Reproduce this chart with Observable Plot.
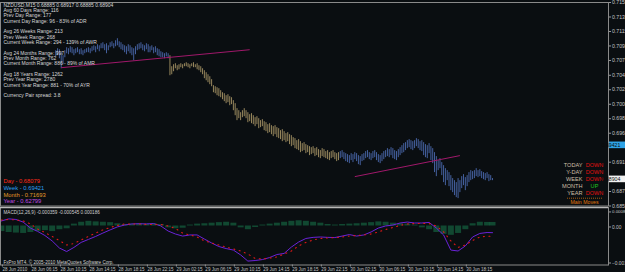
<!DOCTYPE html>
<html><head><meta charset="utf-8">
<script src="https://cdn.jsdelivr.net/npm/d3@7"></script>
<script src="https://cdn.jsdelivr.net/npm/@observablehq/plot@0.6"></script>
<style>
html,body{margin:0;padding:0;background:#0a0e11;overflow:hidden;}
#wrap{position:relative;width:625px;height:272px;background:#0a0e11;overflow:hidden;}
#wrap svg{position:absolute;left:0;overflow:visible;}
</style></head><body><div id="wrap"></div>
<script>
// ---------------- data ----------------
const symbolTitle = "NZDUSD,M15 0.68885 0.68917 0.68885 0.68904";
const infoLines = [
  "Avg 60 Days Range: 116",
  "Prev Day Range: 177",
  "Current Day Range: 96 - 83% of ADR",
  "",
  "Avg 26 Weeks Range: 213",
  "Prev Week Range: 268",
  "Current Week Range: 294 - 139% of AWR",
  "",
  "Avg 24 Months Range: 997",
  "Prev Month Range: 762",
  "Current Month Range: 886 - 89% of AMR",
  "",
  "Avg 18 Years Range: 1262",
  "Prev Year Range: 2780",
  "Current Year Range: 881 - 70% of AYR",
  "",
  "Currency Pair spread: 3.8"
];
const levelNames = ["Day", "Week", "Month", "Year"];
const levelValues = ["0.68079", "0.69421", "0.71693", "0.62799"];
const moveLabels = ["TODAY", "Y-DAY", "WEEK", "MONTH", "YEAR"];
const moveDirs = ["DOWN", "DOWN", "DOWN", "UP", "DOWN"];
const movesTitle = "Main Moves";
const macdTitle = "MACD(12,26,9) -0.000359 -0.000545 0.000186";
const copyright = "FxPro MT4, \u00A9 2005-2010 MetaQuotes Software Corp.";

// M15 bars, index 0 = first bar of the window; prices x 1e-5
const firstBar = 30;
const barHigh = [
70858,70888,70873,70827,70782,70858,70903,70888,70918,70903,
70873,70888,70903,70873,70888,70858,70873,70888,70903,70888,
70918,70933,70918,70949,70933,70964,70979,70949,70964,70933,
70979,70994,70964,71009,71040,70994,70979,70949,70933,70918,
70949,70933,70903,70888,70918,70949,70964,70979,70949,70933,
70964,70949,70918,70933,70903,70918,70888,70873,70842,70827,
70812,70827,70812,70782,70615,70645,70660,70630,70645,70660,
70645,70660,70675,70660,70645,70660,70675,70645,70660,70630,
70615,70584,70554,70524,70493,70463,70418,70327,70311,70296,
70281,70251,70220,70205,70175,70190,70160,70144,70099,70054,
69978,69947,69917,69947,69978,69947,69917,69887,69902,69871,
69841,69856,69826,69796,69811,69780,69765,69735,69750,69720,
69705,69720,69690,69674,69644,69659,69629,69599,69614,69583,
69568,69538,69523,69492,69508,69477,69447,69462,69432,69416,
69401,69386,69401,69371,69386,69356,69341,69371,69356,69326,
69341,69310,69326,69341,69310,69295,69310,69326,69341,69310,
69295,69280,69265,69295,69280,69310,69295,69265,69250,69280,
69295,69326,69341,69310,69295,69326,69341,69310,69280,69265,
69295,69326,69341,69371,69356,69386,69371,69341,69326,69356,
69386,69416,69447,69462,69492,69508,69492,69477,69492,69523,
69508,69477,69492,69462,69432,69416,69447,69401,69371,69310,
69250,69189,69219,69159,69113,69067,69037,69007,68961,68916,
68885,68855,68916,68885,68946,68976,68931,68961,69007,69037,
69022,69037,69067,69037,69052,69022,69007,68992,69007,68976,
68961,68917];
const barLow = [
70766,70782,70736,70584,70645,70751,70812,70797,70827,70812,
70782,70812,70827,70797,70797,70782,70812,70827,70827,70812,
70842,70858,70827,70873,70842,70888,70888,70858,70812,70858,
70903,70918,70888,70918,70933,70903,70873,70858,70827,70797,
70842,70812,70782,70706,70797,70858,70873,70888,70858,70842,
70873,70827,70827,70858,70812,70827,70782,70766,70751,70751,
70736,70766,70736,70478,70493,70539,70584,70554,70569,70600,
70584,70615,70615,70600,70584,70615,70600,70600,70569,70554,
70524,70493,70433,70402,70372,70342,70311,70220,70205,70175,
70160,70144,70114,70084,70054,70069,70023,70039,69947,69871,
69796,69826,69796,69841,69856,69826,69765,69780,69750,69735,
69705,69735,69674,69690,69705,69644,69629,69599,69614,69583,
69553,69583,69538,69523,69508,69477,69492,69462,69477,69432,
69401,69416,69371,69356,69341,69310,69326,69341,69295,69310,
69265,69280,69295,69250,69265,69234,69219,69250,69234,69219,
69204,69189,69219,69234,69204,69174,69189,69219,69234,69204,
69174,69159,69143,69189,69159,69204,69174,69128,69113,69174,
69189,69219,69234,69204,69189,69219,69234,69189,69159,69143,
69174,69204,69234,69250,69234,69265,69219,69204,69189,69234,
69265,69295,69310,69341,69371,69386,69356,69341,69371,69401,
69371,69341,69326,69265,69234,69219,69295,69189,69143,69007,
68946,69037,69067,68961,68855,68809,68885,68794,68733,68703,
68658,68627,68612,68703,68764,68809,68733,68794,68855,68885,
68900,68916,68946,68931,68946,68916,68900,68885,68916,68870,
68885,68885];
const dayBreaks = [93, 187];           // first bar of 29 Jun and 30 Jun sessions

const trendStartBar = [33, 195];
const trendStartPrice = [0.70600, 0.68946];
const trendEndBar = [137, 253];
const trendEndPrice = [0.70873, 0.69265];

const priceTicks = [0.71590,0.71370,0.71150,0.70930,0.70710,0.70485,0.70265,0.70045,
                    0.69825,0.69605,0.69385,0.69165,0.68945,0.68720,0.68500];
const markerPrices = [0.69421, 0.68904];   // week level, current bid

const timeTickBars = [0,16,32,48,64,80,96,112,128,144,160,176,192,208,224,240,256];
const timeTickLabels = ["28 Jun 2010","28 Jun 06:15","28 Jun 10:15","28 Jun 14:15","28 Jun 18:15",
  "28 Jun 22:15","29 Jun 02:15","29 Jun 06:15","29 Jun 10:15","29 Jun 14:15","29 Jun 18:15",
  "29 Jun 22:15","30 Jun 02:15","30 Jun 06:15","30 Jun 10:15","30 Jun 14:15","30 Jun 18:15"];

const macdBars = [0,4,8,12,16,20,24,28,32,36,40,44,48,52,56,60,64,68,72,76,80,84,88,92,96,100,
  104,108,112,116,120,124,128,132,136,140,144,148,152,156,160,164,168,172,176,180,184,188,192,
  196,200,204,208,212,216,220,224,228,232,236,240,244,248,252,256,260,264,268,271];
const macdMain = [0.00027,0.00038,0.00035,0.00021,-0.00011,-0.00029,-0.00051,-0.00080,-0.00118,
  -0.00137,-0.00115,-0.00088,-0.00072,-0.00056,-0.00038,-0.00021,-0.00005,0.00005,0.00011,0.00012,
  0.00011,0.00013,0.00000,-0.00027,-0.00043,-0.00054,-0.00048,-0.00048,-0.00070,-0.00091,-0.00110,
  -0.00121,-0.00129,-0.00155,-0.00188,-0.00185,-0.00180,-0.00169,-0.00153,-0.00147,-0.00113,-0.00086,
  -0.00067,-0.00061,-0.00059,-0.00061,-0.00062,-0.00054,-0.00046,-0.00054,-0.00048,-0.00032,-0.00011,
  0.00000,0.00005,0.00016,0.00021,0.00016,0.00016,0.00019,-0.00011,-0.00048,-0.00129,-0.00134,
  -0.00107,-0.00059,-0.00040,-0.00035,-0.000359];
const macdSignal = [0.00032,0.00035,0.00032,0.00027,0.00011,-0.00016,-0.00035,-0.00056,-0.00078,
  -0.00102,-0.00094,-0.00075,-0.00056,-0.00038,-0.00021,-0.00008,0.00003,0.00011,0.00011,0.00011,
  0.00008,0.00008,0.00008,0.00000,-0.00013,-0.00038,-0.00048,-0.00059,-0.00080,-0.00091,-0.00102,
  -0.00113,-0.00123,-0.00134,-0.00150,-0.00174,-0.00177,-0.00172,-0.00166,-0.00150,-0.00134,-0.00107,
  -0.00088,-0.00075,-0.00067,-0.00064,-0.00063,-0.00059,-0.00054,-0.00051,-0.00048,-0.00043,-0.00032,
  -0.00019,-0.00008,0.00003,0.00011,0.00013,0.00014,0.00013,0.00000,-0.00032,-0.00080,-0.00115,
  -0.00102,-0.00078,-0.00059,-0.00055,-0.000545];
const macdHist = [-0.00030,-0.00035,-0.00038,-0.00040,-0.00035,-0.00030,-0.00025,-0.00030,-0.00020,
  -0.00015,0.00010,0.00020,0.00025,0.00022,0.00020,0.00018,0.00012,0.00008,0.00010,0.00012,0.00010,
  0.00012,0.00008,-0.00010,-0.00015,-0.00012,0.00005,0.00010,0.00012,0.00015,0.00018,0.00020,0.00015,
  -0.00010,-0.00020,-0.00008,0.00005,0.00010,0.00015,0.00020,0.00025,0.00028,0.00025,0.00020,0.00015,
  0.00008,0.00005,0.00008,0.00010,0.00012,0.00015,0.00018,0.00022,0.00020,0.00015,0.00012,0.00010,
  0.00005,-0.00010,-0.00020,-0.00035,-0.00045,-0.00050,-0.00040,-0.00020,0.00012,0.00020,0.00019,0.000186];
const macdTicks = [0.00087, 0, -0.00193];

// ---------------- styles ----------------
const dayColors = ["#4f6fb8", "#b09c6a", "#4f6fb8"];
const levelColors = ["#ff2a1a", "#2a9ff0", "#e39a2a", "#c04ce0"];
const FONT = "Liberation Sans, Arial, sans-serif";

const bars = barHigh.map((h, k) => {
  const i = firstBar + k;
  return {i, hi: h / 1e5, lo: barLow[k] / 1e5, day: i < dayBreaks[0] ? 0 : (i < dayBreaks[1] ? 1 : 2)};
});
const trends = trendStartBar.map((b, k) => ({x1: b, y1: trendStartPrice[k], x2: trendEndBar[k], y2: trendEndPrice[k]}));
const macd = macdBars.map((b, k) => ({i: b, m: macdMain[k], s: macdSignal[k], h: macdHist[k]}));
// price-axis labels hidden under the highlighted price boxes are not drawn
const visibleTicks = priceTicks.filter(t => markerPrices.every(p => Math.abs(t - p) > 0.0005));

const xDomain = [-0.5, 335];
const wrap = document.getElementById("wrap");

// ---------------- main price panel ----------------
const main = Plot.plot({
  width: 625, height: 207,
  marginLeft: 0, marginRight: 17, marginTop: 2, marginBottom: 1.5,
  style: {background: "transparent", color: "#c4c4c4", fontFamily: FONT, fontSize: "5.2px"},
  x: {domain: xDomain, axis: null},
  y: {domain: [0.685, 0.7159], axis: null},
  marks: [
    Plot.frame({stroke: "#8a8a8a"}),
    Plot.axisY(visibleTicks, {anchor: "right", tickSize: 2, tickPadding: 1.5, tickFormat: d3.format(".5f"), label: null, stroke: "#9a9a9a"}),
    Plot.ruleX(bars, {x: "i", y1: "lo", y2: "hi", stroke: d => dayColors[d.day], strokeWidth: 0.85}),
    Plot.link(trends, {x1: "x1", y1: "y1", x2: "x2", y2: "y2", stroke: "#a0186a", strokeWidth: 1}),
    Plot.text([[symbolTitle, ...infoLines].join("\n")], {frameAnchor: "top-left", dx: 3, dy: 0.2, textAnchor: "start", lineAnchor: "top", fontSize: 5, lineHeight: 1.07, fill: "#d8d8d8"}),
    ...levelNames.map((n, k) => Plot.text([`${n} - ${levelValues[k]}`], {frameAnchor: "top-left", dx: 3, dy: 176.5 + k * 6.7, textAnchor: "start", lineAnchor: "top", fontSize: 5.8, fill: levelColors[k]})),
    ...moveLabels.map((n, k) => Plot.text([n], {frameAnchor: "top-right", dx: -26, dy: 160.3 + k * 7.05, textAnchor: "end", lineAnchor: "top", fontSize: 5.6, fill: "#cdbfa6"})),
    ...moveDirs.map((n, k) => Plot.text([n], {frameAnchor: "top-right", dx: -14, dy: 160.3 + k * 7.05, textAnchor: "middle", lineAnchor: "top", fontSize: 5.6, fill: n === "UP" ? "#1fc81f" : "#e01010"})),
    Plot.text([movesTitle], {frameAnchor: "top-right", dx: -24, dy: 197.3, textAnchor: "middle", lineAnchor: "top", fontSize: 5.2, fill: "#e07a10"})
  ]
});
main.style.top = "0px";
wrap.appendChild(main);
{
  const sy = main.scale("y");
  const fills = ["#2ea3e6", "#f2f2f2"];
  const g = d3.select(main).append("g");
  markerPrices.forEach((p, k) => {
    const y = sy.apply(p);
    g.append("rect").attr("x", 609).attr("y", y - 3.3).attr("width", 20).attr("height", 6.6).attr("fill", fills[k]);
    g.append("text").attr("x", 611).attr("y", y).attr("dy", "0.35em").attr("font-size", 5.2)
      .attr("font-family", FONT).attr("fill", "#0a0a0a").text(d3.format(".5f")(p));
  });
  g.append("line").attr("x1", 567).attr("x2", 603).attr("y1", 198.2).attr("y2", 198.2)
    .attr("stroke", "#d07010").attr("stroke-width", 0.8).attr("stroke-dasharray", "1,1");
}

// ---------------- MACD panel ----------------
const sub = Plot.plot({
  width: 625, height: 67.5,
  marginLeft: 0, marginRight: 17, marginTop: 2, marginBottom: 8,
  style: {background: "transparent", color: "#c4c4c4", fontFamily: FONT, fontSize: "4.6px"},
  x: {domain: xDomain, axis: null},
  y: {domain: [-0.00209, 0.00099], axis: null},
  marks: [
    Plot.ruleX(macd, {x: "i", y1: 0, y2: "h", stroke: "#157048", strokeOpacity: 0.6, strokeWidth: 6}),
    Plot.line(macd, {x: "i", y: "m", stroke: "#6a22d8", strokeWidth: 1}),
    Plot.line(macd, {x: "i", y: "s", stroke: "#e01818", strokeWidth: 1.1, strokeDasharray: "1,4.5"}),
    Plot.axisY(macdTicks.slice(1), {anchor: "right", tickSize: 2, tickPadding: 1.5, fontSize: 4.8, dy: 1, tickFormat: (d) => d === 0 ? "0.00" : d3.format(".5f")(d), label: null, stroke: "#9a9a9a"}),
    Plot.axisY(macdTicks.slice(0, 1), {anchor: "right", tickSize: 2, tickPadding: 1.5, fontSize: 4.4, dy: 2.2, tickFormat: d3.format(".5f"), label: null, stroke: "#9a9a9a"}),
    Plot.axisX(timeTickBars, {anchor: "bottom", tickSize: 2, tickPadding: 0.5, textAnchor: "start", dx: 1, fontSize: 4.5, tickFormat: (d) => timeTickLabels[timeTickBars.indexOf(d)], label: null, stroke: "#9a9a9a"}),
    Plot.frame({stroke: "#8a8a8a"}),
    Plot.ruleY([0.00099], {stroke: "#b8b8b8", strokeWidth: 1.6}),
    Plot.text([macdTitle], {frameAnchor: "top-left", dx: 3, dy: 2.8, textAnchor: "start", lineAnchor: "top", fontSize: 4.6, fill: "#d0d0d0"}),
    Plot.text([copyright], {frameAnchor: "bottom-left", dx: 3, dy: -1.5, textAnchor: "start", lineAnchor: "bottom", fontSize: 4.6, fill: "#d0d0d0"})
  ]
});
sub.style.top = "204.5px";
wrap.appendChild(sub);
</script>
</body></html>
